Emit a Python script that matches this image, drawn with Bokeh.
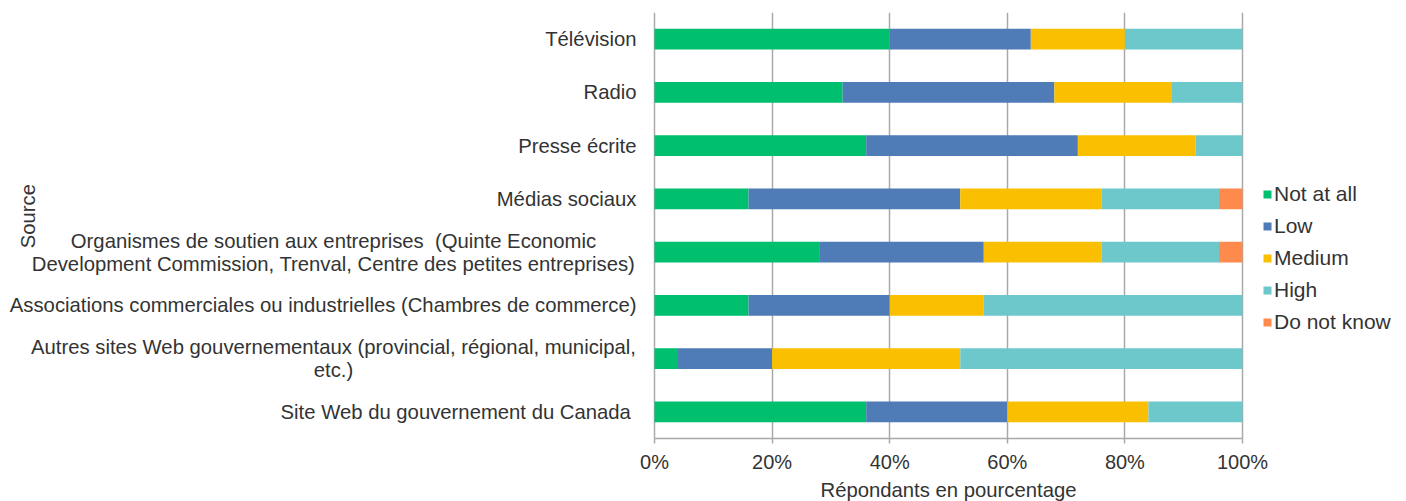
import math
from bokeh.plotting import figure
from bokeh.models import (ColumnDataSource, FactorRange, Range1d, FixedTicker,
                          Legend, LegendItem, Title)
from bokeh.core.properties import value
from bokeh.embed import file_html
from bokeh.resources import INLINE

# ---------------- data (top to bottom as in the chart) ----------------
categories = [
    "Télévision",
    "Radio",
    "Presse écrite",
    "Médias sociaux",
    "Organismes de soutien aux entreprises",
    "Associations commerciales ou industrielles",
    "Autres sites Web gouvernementaux",
    "Site Web du gouvernement du Canada",
]
category_lines = [
    ["Télévision"],
    ["Radio"],
    ["Presse écrite"],
    ["Médias sociaux"],
    ["Organismes de soutien aux entreprises  (Quinte Economic",
     "Development Commission, Trenval, Centre des petites entreprises)"],
    ["Associations commerciales ou industrielles (Chambres de commerce)"],
    ["Autres sites Web gouvernementaux (provincial, régional, municipal,",
     "etc.)"],
    ["Site Web du gouvernement du Canada "],
]
not_at_all = [40, 32, 36, 16, 28, 16, 4, 36]
low        = [24, 36, 36, 36, 28, 24, 16, 24]
medium     = [16, 20, 20, 24, 20, 16, 32, 24]
high       = [20, 12,  8, 20, 20, 44, 48, 16]
do_not_know = [0, 0, 0, 4, 4, 0, 0, 0]

series_names = ["Not at all", "Low", "Medium", "High", "Do not know"]
series_keys = ["not_at_all", "low", "medium", "high", "dnk"]
colors = ["#00BF6F", "#4F7BB6", "#F9BF00", "#6CC8CB", "#FF8A4D"]

x_ticks = [0, 20, 40, 60, 80, 100]
x_tick_labels = ["0%", "20%", "40%", "60%", "80%", "100%"]
x_title = "Répondants en pourcentage"
y_title = "Source"

# ---------------- layout constants (pixels) ----------------
W, H = 1406, 501
PLOT_L, PLOT_R = 654, 1242          # where 0 % and 100 % fall
TOP, BOTTOM = 12, 441
px_per = (PLOT_R - PLOT_L) / 100.0
x_start = -PLOT_L / px_per
x_end = 100 + (W - PLOT_R) / px_per

FONT = "Liberation Sans"
FS = "20.3px"
TXT = "#333333"
GRID = "#A9A9A9"

src = ColumnDataSource(dict(
    source=categories, not_at_all=not_at_all, low=low, medium=medium,
    high=high, dnk=do_not_know))

p = figure(width=W, height=H, output_backend="svg", toolbar_location=None,
           y_range=FactorRange(factors=list(reversed(categories)), range_padding=0),
           x_range=Range1d(x_start, x_end),
           min_border_left=0, min_border_right=0, min_border_top=TOP,
           min_border_bottom=H - BOTTOM)
p.outline_line_color = None
p.background_fill_color = "white"
p.border_fill_color = "white"

renderers = p.hbar_stack(series_keys, y="source", height=0.39, color=colors,
                         line_color=None, source=src)

# axes
p.yaxis.visible = False
xa = p.xaxis[0]
xa.bounds = (0, 100)
xa.ticker = FixedTicker(ticks=x_ticks)
xa.major_label_overrides = {t: l for t, l in zip(x_ticks, x_tick_labels)}
xa.axis_line_color = GRID
xa.axis_line_width = 1.5
xa.major_tick_line_color = GRID
xa.major_tick_line_width = 1.5
xa.major_tick_in = 0
xa.major_tick_out = 5
xa.minor_tick_line_color = None
xa.major_label_standoff = 7
xa.major_label_text_font = FONT
xa.major_label_text_font_size = "20px"
xa.major_label_text_color = TXT

p.xgrid.grid_line_color = GRID
p.xgrid.grid_line_width = 1.5
p.ygrid.grid_line_color = None

# x title, placed under the 0-100 % span
p.add_layout(Title(text=x_title, align="left", offset=820, standoff=2,
                   text_font=FONT, text_font_size=FS, text_font_style="normal",
                   text_color=TXT), "below")

# category labels (drawn inside the wide frame, left of 0 %)
lab_y, lab_text, lab_xo, lab_yo, lab_align = [], [], [], [], []
for cat, lines in zip(categories, category_lines):
    lines = [ln.replace("  ", " \u00a0") for ln in lines]
    if len(lines) == 1:
        lab_y.append(cat); lab_text.append(lines[0])
        lab_xo.append(-18); lab_yo.append(0); lab_align.append("right")
    else:
        for ln, yo in zip(lines, [-11.5, 11.5]):
            lab_y.append(cat); lab_text.append(ln)
            lab_xo.append(333 - PLOT_L); lab_yo.append(yo); lab_align.append("center")
lab_src = ColumnDataSource(dict(x=[0] * len(lab_y), y=lab_y, text=lab_text,
                                xo=lab_xo, yo=lab_yo, align=lab_align))
p.text(x="x", y="y", text="text", x_offset="xo", y_offset="yo",
       text_align="align", text_baseline="middle", text_font=value(FONT),
       text_font_size=FS, text_color=TXT, source=lab_src)

# y title
ysrc = ColumnDataSource(dict(x=[0], y=[categories[4]], text=[y_title]))
p.text(x="x", y="y", text="text", x_offset=27 - PLOT_L, y_offset=-36,
       angle=math.pi / 2, text_align="center", text_baseline="middle",
       text_font=value(FONT), text_font_size=FS, text_color=TXT, source=ysrc)

# legend (inside the wide frame, right of 100 %)
items = [LegendItem(label=n, renderers=[r]) for n, r in zip(series_names, renderers)]
legend = Legend(items=items, location=(1262, 104), orientation="vertical",
                glyph_width=10, glyph_height=10, label_standoff=2,
                label_height=22, spacing=8, padding=0, margin=0,
                border_line_color=None, background_fill_alpha=0,
                label_text_font=FONT, label_text_font_size="21px",
                label_text_color=TXT, label_text_baseline="middle")
p.add_layout(legend)

open("out.html", "w").write(file_html(p, INLINE))
